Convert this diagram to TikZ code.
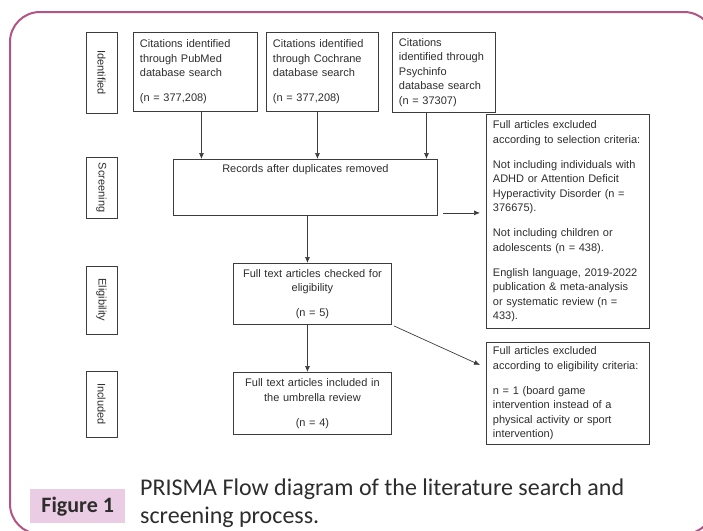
\documentclass[tikz,border=0pt]{standalone}
\usepackage{fontspec}
\setmainfont{Liberation Sans}
\newfontfamily\capfont{Carlito}
\usetikzlibrary{arrows.meta}
\definecolor{framecol}{RGB}{178,84,132}
\definecolor{labelbg}{RGB}{234,205,228}
\definecolor{boxline}{RGB}{60,60,60}
\definecolor{ink}{RGB}{45,45,45}

\begin{document}
\begin{tikzpicture}[x=1pt,y=-1pt,
  box/.style={draw=boxline, line width=0.9pt, anchor=north west, inner xsep=6.5pt, inner ysep=0pt,
    align=left, text=ink, font=\fontsize{11}{14.5}\selectfont},
  stage/.style={draw=boxline, line width=0.9pt, minimum height=31pt, inner sep=0pt, rotate=-90,
    text=ink, font=\fontsize{11}{13}\selectfont},
  flow/.style={draw=boxline, line width=0.7pt, -{Latex[length=6pt,width=5pt]}}]
\useasboundingbox (0,0) rectangle (703,530);
\clip (0,0) rectangle (703,530);
\draw[framecol, line width=2pt, rounded corners=30pt] (10,12) rectangle (714,534);

% stages
\node[stage, minimum width=81pt] (sid) at (101.5,72.5) {Identified};
\node[stage, minimum width=61pt] (sscr) at (101.5,187.5) {Screening};
\node[stage, minimum width=68pt] (selig) at (101.5,300) {Eligibility};
\node[stage, minimum width=66pt] (sinc) at (101.5,404) {Included};

% sources
\node[box, text width=111pt, minimum height=79pt] (pub) at (133,32)
  {Citations identified\\through PubMed\\database search\\[10.5pt](n = 377,208)};
\node[box, text width=99pt, minimum height=79pt] (coch) at (266,32)
  {Citations identified\\through Cochrane\\database search\\[10.5pt](n = 377,208)};
\node[box, text width=90pt, minimum height=80pt] (psy) at (392,32)
  {Citations\\identified through\\Psychinfo\\database search\\(n = 37307)};

% screening
\node[box, align=center, text width=251pt, text height=13pt, text depth=43pt] (rec) at (173,159)
  {Records after duplicates removed};
\node[box, text width=150pt, minimum height=214pt] (excla) at (486,114)
  {Full articles excluded\\according to selection criteria:\\[10.5pt]
   Not including individuals with\\ADHD or Attention Deficit\\Hyperactivity Disorder (n =\\376675).\\[10.5pt]
   Not including children or\\adolescents (n = 438).\\[10.5pt]
   English language, 2019-2022\\publication \& meta-analysis\\or systematic review (n =\\433).};

% eligibility and included
\node[box, align=center, text width=145pt, minimum height=61pt] (chk) at (233,263)
  {Full text articles checked for\\eligibility\\[10.5pt](n = 5)};
\node[box, align=center, text width=145pt, minimum height=62pt] (inc) at (233,372)
  {Full text articles included in\\the umbrella review\\[10.5pt](n = 4)};
\node[box, text width=150pt, minimum height=102pt] (exclb) at (486,342)
  {Full articles excluded\\according to eligibility criteria:\\[10.5pt]
   n = 1 (board game\\intervention instead of a\\physical activity or sport\\intervention)};

% connectors
\draw[flow] ([xshift=6pt]pub.south) -- ([xshift=6pt]pub.south |- rec.north);
\draw[flow] ([xshift=-5pt]coch.south) -- ([xshift=-5pt]coch.south |- rec.north);
\draw[flow] ([xshift=-17.5pt]psy.south) -- ([xshift=-17.5pt]psy.south |- rec.north);
\draw[flow] ([xshift=2pt]rec.south) -- ([xshift=2pt]rec.south |- chk.north);
\draw[flow, shorten >=6pt] ([xshift=5pt,yshift=3pt]rec.south east) -- ([yshift=3pt]rec.south east -| excla.west);
\draw[flow] ([xshift=-5pt]chk.south) -- ([xshift=-5pt]chk.south |- inc.north);
\draw[flow] ([xshift=2pt,yshift=-1pt]chk.south east) -- ([xshift=-6pt,yshift=-23pt]exclb.north west);

% caption
\node[fill=labelbg, anchor=north west, minimum width=95pt, minimum height=34pt, inner sep=0pt,
  text=ink, font=\capfont\bfseries\fontsize{22}{24}\selectfont] (figlab) at (30,489) {Figure 1};
\node[anchor=base west, inner sep=0pt, align=left, text=ink, font=\capfont\fontsize{24}{28}\selectfont]
  (cap) at (140,523) {PRISMA Flow diagram of the literature search and\\screening process.};
\end{tikzpicture}
\end{document}
